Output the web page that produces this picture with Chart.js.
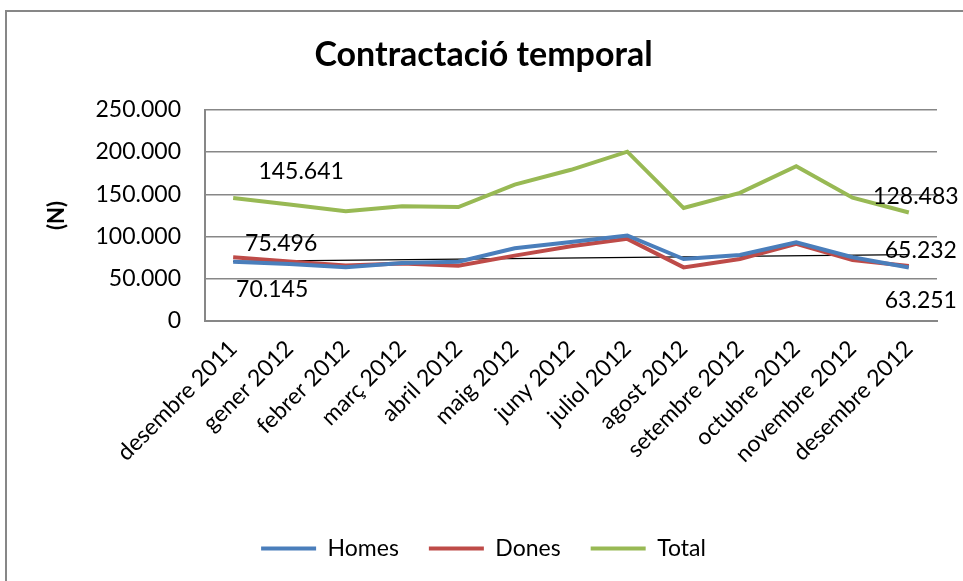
<!DOCTYPE html>
<html>
<head>
<meta charset="utf-8">
<script src="https://cdn.jsdelivr.net/npm/chart.js@4"></script>
<style>
  html, body { margin: 0; padding: 0; background: #fff; }
  canvas { display: block; }
</style>
</head>
<body>
<canvas id="chart" width="963" height="581"></canvas>
<script>
// Months (x axis)
const months = ['desembre 2011', 'gener 2012', 'febrer 2012', 'març 2012', 'abril 2012', 'maig 2012',
    'juny 2012', 'juliol 2012', 'agost 2012', 'setembre 2012', 'octubre 2012', 'novembre 2012', 'desembre 2012'];

// Series values (first/last are labelled)
const homes = [70145, 67500, 63500, 68700, 70200, 86100, 93500, 101200, 73400, 78200, 93200, 75400, 63251];
const dones = [75496, 70500, 65800, 68200, 65500, 77400, 88500, 97200, 63500, 73400, 91300, 72200, 65232];
const total = [145641, 138000, 129800, 135700, 134900, 161500, 179000, 200400, 133700, 151600, 183300, 146000, 128483];

const trend = [70600, null, null, null, null, null, null, null, null, null, null, null, 78600];

// Y axis ticks
const yTicks = [0, 50000, 100000, 150000, 200000, 250000];

const FONT = 'Lato';
const GRAY = '#878787';

// 145641 -> "145.641"
function fmt(v) {
    return String(v).replace(/\B(?=(\d{3})+(?!\d))/g, '.');
}

// Value labels at the start and end of each series: [dataset, point, dx, dy]
const valueLabels = [
    [2, 0, 68, -26],
    [1, 0, 48, -14],
    [0, 0, 39, 28],
    [2, 12, 7, -16],
    [1, 12, 12, -15],
    [0, 12, 12, 33]
];

const labelsPlugin = {
    id: 'valueLabels',
    afterDatasetsDraw(chart) {
        const ctx = chart.ctx;
        ctx.save();
        ctx.font = '23px ' + FONT;
        ctx.fillStyle = '#000';
        ctx.textAlign = 'center';
        ctx.textBaseline = 'middle';
        valueLabels.forEach(([ds, i, dx, dy]) => {
            const pt = chart.getDatasetMeta(ds).data[i];
            const v = chart.data.datasets[ds].data[i];
            ctx.fillText(fmt(v), pt.x + dx, pt.y + dy);
        });
        ctx.restore();
    }
};

// Outer frame of the chart object
const framePlugin = {
    id: 'frame',
    beforeDraw(chart) {
        const ctx = chart.ctx;
        ctx.save();
        ctx.strokeStyle = GRAY;
        ctx.lineWidth = 2;
        ctx.strokeRect(6, 11, chart.width + 20, chart.height + 20);
        ctx.restore();
    }
};

const line = (label, data, color) => ({
    label: label,
    data: data,
    borderColor: color,
    backgroundColor: color,
    borderWidth: 4,
    pointRadius: 0,
    tension: 0
});

new Chart(document.getElementById('chart').getContext('2d'), {
    type: 'line',
    data: {
        labels: months,
        datasets: [
            line('Homes', homes, '#4A7EBB'),
            line('Dones', dones, '#BE4B48'),
            line('Total', total, '#98B954'),
            {
                label: 'Tendència',
                data: trend,
                borderColor: '#000',
                borderWidth: 1.3,
                pointRadius: 0,
                spanGaps: true
            }
        ]
    },
    options: {
        responsive: false,
        animation: false,
        layout: { padding: { left: 30, right: 26, top: 0, bottom: 11 } },
        plugins: {
            title: {
                display: true,
                text: 'Contractació temporal',
                color: '#000',
                font: { family: FONT, size: 34, weight: 'bold' },
                padding: { top: 35, bottom: 34 }
            },
            legend: {
                position: 'bottom',
                labels: {
                    color: '#000',
                    font: { family: FONT, size: 23 },
                    boxWidth: 55,
                    boxHeight: 4,
                    padding: 30,
                    filter: item => item.datasetIndex < 3,
                    generateLabels: chart => Chart.defaults.plugins.legend.labels.generateLabels(chart)
                        .map(l => Object.assign(l, { lineWidth: 0, fillStyle: l.strokeStyle }))
                }
            },
            tooltip: { enabled: false }
        },
        scales: {
            x: {
                offset: true,
                grid: { display: false },
                border: { display: true, color: GRAY, width: 2 },
                ticks: {
                    color: '#000',
                    font: { family: FONT, size: 23 },
                    autoSkip: false,
                    minRotation: 45,
                    maxRotation: 45,
                    padding: 6
                },
                afterFit(scale) { scale.height = 186; }
            },
            y: {
                min: 0,
                max: 250000,
                afterBuildTicks(scale) { scale.ticks = yTicks.map(v => ({ value: v })); },
                grid: { color: GRAY, lineWidth: 1.5, drawTicks: false },
                border: { display: true, color: GRAY, width: 2 },
                ticks: {
                    color: '#000',
                    font: { family: FONT, size: 23 },
                    padding: 24,
                    callback: v => fmt(v)
                },
                title: {
                    display: true,
                    text: '(N)',
                    color: '#000',
                    font: { family: FONT, size: 22, weight: 'bold' },
                    padding: { top: 14, bottom: 0 }
                },
                afterFit(scale) { scale.width = 175; }
            }
        }
    },
    plugins: [labelsPlugin, framePlugin]
});
</script>
</body>
</html>
